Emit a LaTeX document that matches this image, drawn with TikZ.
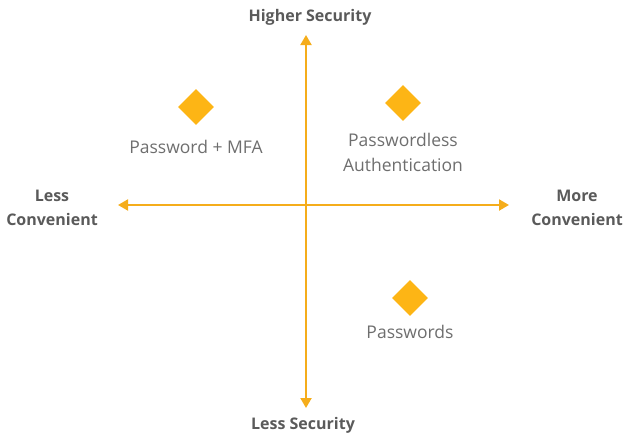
\documentclass[tikz,border=0pt]{standalone}
\usepackage{fontspec}
\setmainfont{Open Sans}
\usetikzlibrary{arrows.meta,positioning,shapes.geometric}

\definecolor{axe}{HTML}{F5AD1B}
\definecolor{losange}{HTML}{FDB515}
\definecolor{titre}{HTML}{5A5A5A}
\definecolor{texte}{HTML}{6E6E6E}

\tikzset{
    axis/.style={draw=axe, line width=2pt, {Triangle[length=10pt,width=11pt]}-{Triangle[length=10pt,width=11pt]}},
    point/.style={diamond, fill=losange, inner sep=0pt, minimum width=36pt, minimum height=36pt},
    pointlabel/.style={text=texte, font=\fontsize{17.5}{25}\selectfont, align=center},
    axislabel/.style={text=titre, font=\fontsize{16}{24}\selectfont\bfseries, align=center}
}

\begin{document}
\begin{tikzpicture}[x=1pt, y=-1pt]
    \useasboundingbox (0,0) rectangle (623,439);

    % Extrémités des axes
    \coordinate (N) at (306,35);
    \coordinate (S) at (306,408);
    \coordinate (W) at (118,205);
    \coordinate (E) at (509,205);

    % Axes
    \draw[axis] (S) -- (N);
    \draw[axis] (W) -- (E);

    % Légendes des axes
    \node[axislabel] (haut) at (310,17) {Higher Security};
    \node[axislabel] (bas) at (303,425) {Less Security};
    \node[axislabel] (gauche) at (52,208) {Less\\Convenient};
    \node[axislabel] (droite) at (577,208) {More\\Convenient};

    % Méthodes d'authentification
    \node[point] (mfa) at (196,107) {};
    \node[point] (sans) at (403,103) {};
    \node[point] (mdp) at (410,298) {};

    \node[pointlabel, below=11pt of mfa] (mfatxt) {Password + MFA};
    \node[pointlabel, below=8pt of sans] (sanstxt) {Passwordless\\Authentication};
    \node[pointlabel, below=5pt of mdp] (mdptxt) {Passwords};

\end{tikzpicture}
\end{document}
